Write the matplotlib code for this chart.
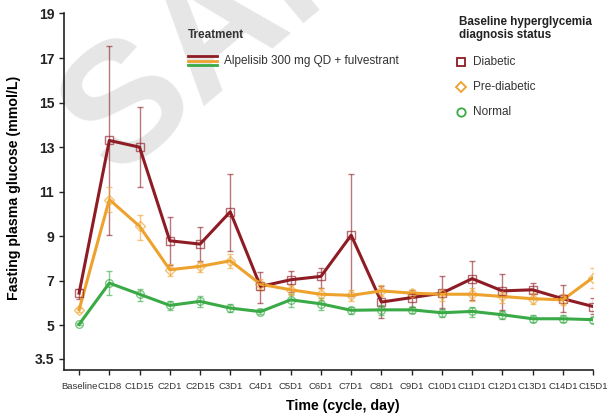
import matplotlib
matplotlib.use("Agg")
import matplotlib.pyplot as plt
from matplotlib.lines import Line2D
import numpy as np

plt.rcParams['font.family'] = ['Liberation Sans', 'DejaVu Sans']

visits = ['Baseline', 'C1D8', 'C1D15', 'C2D1', 'C2D15', 'C3D1', 'C4D1', 'C5D1', 'C6D1',
          'C7D1', 'C8D1', 'C9D1', 'C10D1', 'C11D1', 'C12D1', 'C13D1', 'C14D1', 'C15D1']

# mean fasting plasma glucose (mmol/L) with lower / upper error limits
diabetic_mean = [6.45, 13.3, 13.0, 8.8, 8.65, 10.1, 6.75, 7.05, 7.2, 9.05, 6.05, 6.25, 6.45, 7.1, 6.55, 6.6, 6.2, 5.85]
diabetic_low = [6.2, 9.05, 11.2, 7.7, 7.9, 8.35, 6.0, 6.5, 6.7, 6.3, 5.35, 5.85, 5.8, 6.15, 5.7, 6.2, 5.6, 5.5]
diabetic_high = [6.65, 17.55, 14.8, 9.85, 9.4, 11.8, 7.4, 7.45, 7.6, 11.8, 6.75, 6.6, 7.2, 7.9, 7.3, 6.9, 6.8, 6.25]

prediab_mean = [5.7, 10.65, 9.45, 7.5, 7.65, 7.9, 6.85, 6.6, 6.4, 6.35, 6.55, 6.45, 6.4, 6.4, 6.3, 6.2, 6.15, 7.15]
prediab_low = [5.6, 10.1, 8.85, 7.2, 7.4, 7.6, 6.6, 6.35, 6.15, 6.1, 6.3, 6.3, 6.1, 6.1, 6.0, 5.95, 5.9, 6.7]
prediab_high = [5.8, 11.2, 9.95, 7.75, 7.85, 8.2, 7.1, 6.8, 6.7, 6.6, 6.8, 6.6, 6.6, 6.7, 6.6, 6.45, 6.4, 7.6]

normal_mean = [5.05, 6.9, 6.4, 5.9, 6.08, 5.78, 5.62, 6.15, 5.97, 5.68, 5.7, 5.7, 5.57, 5.63, 5.48, 5.3, 5.3, 5.26]
normal_low = [5.0, 6.35, 6.1, 5.7, 5.85, 5.6, 5.5, 5.85, 5.7, 5.5, 5.45, 5.55, 5.4, 5.4, 5.3, 5.15, 5.15, 5.1]
normal_high = [5.1, 7.45, 6.65, 6.1, 6.3, 5.95, 5.75, 6.4, 6.25, 5.85, 5.9, 5.85, 5.75, 5.85, 5.65, 5.45, 5.45, 5.4]

groups = [
    ('Diabetic', diabetic_mean, diabetic_low, diabetic_high, '#8e1c24', 's'),
    ('Pre-diabetic', prediab_mean, prediab_low, prediab_high, '#eea22e', 'D'),
    ('Normal', normal_mean, normal_low, normal_high, '#3aaa46', 'o'),
]

fig = plt.figure(figsize=(6.07, 4.20), dpi=100)
ax = fig.add_axes([0.1054, 0.119, 0.8716, 0.849])
ax.patch.set_alpha(0)

# faint watermark behind the plot
fig.text(0.187, 0.575, 'SAMPLE', fontsize=122, fontweight='bold', color='#e6e6e6',
         rotation=40, rotation_mode='anchor', ha='left', va='baseline', zorder=-5)

x = np.arange(len(visits))
for name, mean, low, high, color, marker in groups:
    mean = np.array(mean)
    yerr = [mean - np.array(low), np.array(high) - mean]
    ax.errorbar(x, mean, yerr=yerr, fmt='none', ecolor=color, alpha=0.6,
                elinewidth=1.0, capsize=2.5, capthick=1.0, zorder=2)
    ax.plot(x, mean, color=color, lw=2.2, zorder=3)
    ax.plot(x, mean, ls='none', marker=marker, ms=5.5 if marker != 'D' else 5,
            mfc='none', mec=color, mew=1.0, alpha=0.65, zorder=4)

ax.set_xlim(-0.5, 17)
ax.set_ylim(3.0, 19)
ax.set_yticks([3.5, 5, 7, 9, 11, 13, 15, 17, 19])
ax.set_yticklabels(['3.5', '5', '7', '9', '11', '13', '15', '17', '19'],
                   fontsize=10, fontweight='bold', color='#222222')
ax.set_xticks(x)
ax.set_xticklabels(visits, fontsize=6.8, color='#333333')
ax.tick_params(axis='both', length=3.5, width=1.0, color='#222222')
ax.tick_params(axis='x', pad=5)
for side in ['top', 'right']:
    ax.spines[side].set_visible(False)
for side in ['left', 'bottom']:
    ax.spines[side].set_linewidth(1.2)
    ax.spines[side].set_color('#222222')

ax.set_ylabel('Fasting plasma glucose (mmol/L)', fontsize=10.2, fontweight='bold')
ax.yaxis.set_label_coords(-0.082, 0.51)
ax.set_xlabel('Time (cycle, day)', fontsize=10.2, fontweight='bold')
ax.xaxis.set_label_coords(0.527, -0.08)

# treatment legend
fig.text(188 / 607, 1 - 35 / 420, 'Treatment', fontsize=8.5, fontweight='bold',
         color='#333333', va='center')
for dy, (_, _, _, _, color, _) in zip([56, 60.5, 65], groups):
    fig.add_artist(Line2D([188 / 607, 217 / 607], [1 - dy / 420, 1 - dy / 420],
                          color=color, lw=2.0))
fig.text(224 / 607, 1 - 61 / 420, 'Alpelisib 300 mg QD + fulvestrant', fontsize=8.5,
         color='#333333', va='center')

# hyperglycemia status legend
fig.text(459 / 607, 1 - 28.5 / 420, 'Baseline hyperglycemia\ndiagnosis status', fontsize=8.4,
         fontweight='bold', color='#222222', va='center', linespacing=1.15)
for dy, (name, _, _, _, color, marker) in zip([62, 87, 112], groups):
    fig.add_artist(Line2D([461 / 607], [1 - dy / 420], ls='none', marker=marker,
                          ms=6 if marker != 'D' else 5.5, mfc='none', mec=color, mew=1.3))
    fig.text(473 / 607, 1 - dy / 420, name, fontsize=8.5, color='#333333', va='center')

fig.savefig('out.png', dpi=100)
